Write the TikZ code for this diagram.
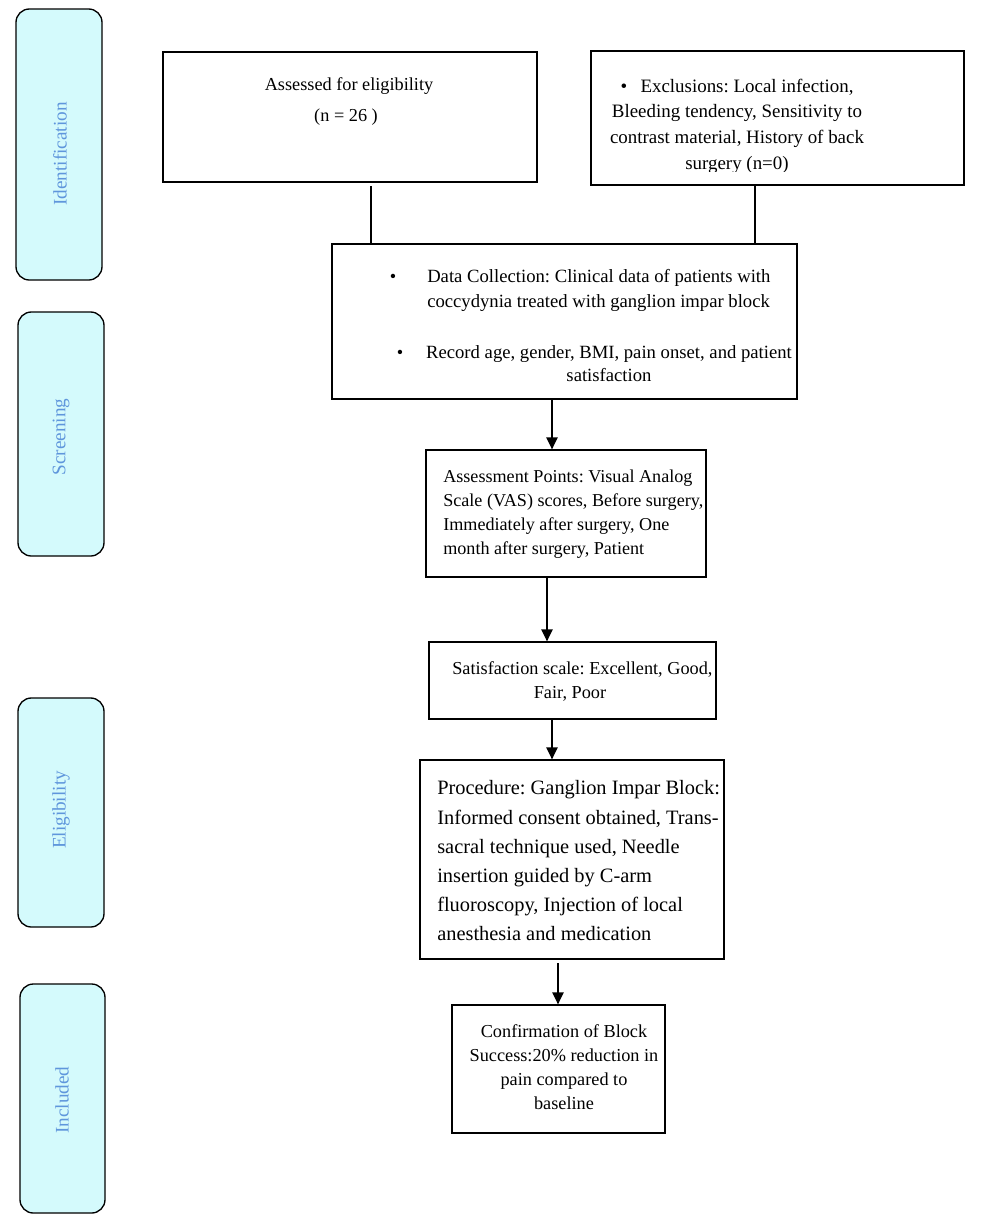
\documentclass[tikz,border=0pt]{standalone}
\usepackage{fontspec}
\setmainfont{Liberation Serif}
\frenchspacing
\usetikzlibrary{fit,arrows.meta}
\definecolor{sidefill}{RGB}{212,250,252}
\definecolor{sidetext}{RGB}{95,150,220}
\begin{document}
\begin{tikzpicture}[x=0.75pt,y=-0.75pt,
  side/.style={draw=black, line width=1pt, rounded corners=10pt, fill=sidefill, inner sep=0pt},
  box/.style={draw=black, line width=1pt, inner sep=0pt},
  txt/.style={inner sep=0pt, font=\fontsize{13.7}{18}\selectfont},
  lab/.style={inner sep=0pt, text=sidetext, rotate=90, font=\fontsize{14.4}{16}\selectfont},
  link/.style={line width=1pt},
  arr/.style={line width=1pt, -{Triangle[length=9pt,width=8.5pt]}}]
\useasboundingbox (0,0) rectangle (1000,1228);

% side bars
\node[side, fit={(16,9) (102,280)}] (ident) {};
\node[side, fit={(18,312) (104,556)}] (screen) {};
\node[side, fit={(18,698) (104,927)}] (elig) {};
\node[side, fit={(20,984) (105,1213)}] (incl) {};
\node[lab] (identL) at (60,154) {Identification};
\node[lab] (screenL) at (61,437) {Screening};
\node[lab] (eligL) at (61,810) {Eligibility};
\node[lab] (inclL) at (62,1100) {Included};

% boxes
\node[box, fit={(163,52) (537,182)}] (assess) {};
\node[box, fit={(591,51) (964,185)}] (excl) {};
\node[box, fit={(332,244) (797,399)}] (data) {};
\node[box, fit={(426,450) (706,577)}] (points) {};
\node[box, fit={(429,642) (716,719)}] (satis) {};
\node[box, fit={(420,760) (724,959)}] (proc) {};
\node[box, fit={(452,1005) (665,1133)}] (confirm) {};

% texts
\node[txt, anchor=base] (t1) at (349,90) {Assessed for eligibility};
\node[txt, anchor=base] (t2) at (346,121) {(n = 26 )};

\begin{scope}
\clip (591,51) rectangle (964,171);
\node[txt, anchor=north, align=center, font=\fontsize{14.2}{19.3}\selectfont] (t3) at (737,78.5)
  {\textbullet\hspace{10pt}Exclusions: Local infection,\\ Bleeding tendency, Sensitivity to\\ contrast material, History of back\\ surgery (n=0)};
\end{scope}

\node[txt, anchor=base] (b1) at (393,282) {\textbullet};
\node[txt, anchor=north west, align=left, font=\fontsize{14}{18.75}\selectfont] (t4) at (427,269.5)
  {Data Collection: Clinical data of patients with\\ coccydynia treated with ganglion impar block};
\node[txt, anchor=base] (b2) at (400,358) {\textbullet};
\node[txt, anchor=north, align=center, font=\fontsize{14}{17.25}\selectfont] (t5) at (609,345.5)
  {Record age, gender, BMI, pain onset, and patient\\ satisfaction};

\node[txt, anchor=north west, align=left, font=\fontsize{13.6}{18}\selectfont] (t6) at (443,469.5)
  {Assessment Points: Visual Analog\\ Scale (VAS) scores, Before surgery,\\ Immediately after surgery, One\\ month after surgery, Patient};

\node[txt, anchor=base west] (t7) at (452,674) {Satisfaction scale: Excellent, Good,};
\node[txt, anchor=base] (t8) at (570,698) {Fair, Poor};

\node[txt, anchor=north west, align=left, font=\fontsize{15.3}{21.9}\selectfont] (t9) at (437,780.5)
  {Procedure: Ganglion Impar Block:\\ Informed consent obtained, Trans-\\ sacral technique used, Needle\\ insertion guided by C-arm\\ fluoroscopy, Injection of local\\ anesthesia and medication};

\node[txt, anchor=north, align=center] (t10) at (564,1024.5)
  {Confirmation of Block\\ Success:20\% reduction in\\ pain compared to\\ baseline};

% connectors
\coordinate (c1) at (371,186);
\coordinate (c2) at (755,185);
\draw[link] (c1) -- (c1 |- data.north);
\draw[link] (c2) -- (c2 |- data.north);
\coordinate (a1) at (552,399);
\draw[arr] (a1) -- (a1 |- points.north);
\coordinate (a2) at (547,577);
\draw[arr] (a2) -- (a2 |- satis.north);
\coordinate (a3) at (552,719);
\draw[arr] (a3) -- (a3 |- proc.north);
\coordinate (a4) at (558,963);
\draw[arr] (a4) -- (a4 |- confirm.north);
\end{tikzpicture}
\end{document}
